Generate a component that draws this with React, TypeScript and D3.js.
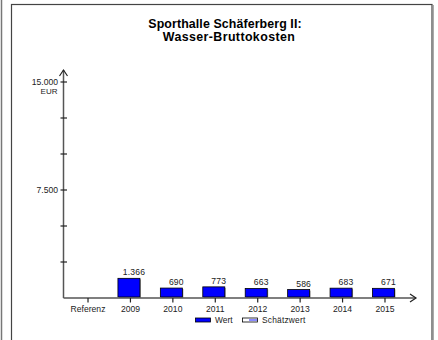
import React from "react";
import * as d3 from "d3";

const categories = ["Referenz", "2009", "2010", "2011", "2012", "2013", "2014", "2015"];
const values: (number | null)[] = [null, 1366, 690, 773, 663, 586, 683, 671];
const valueLabels = ["", "1.366", "690", "773", "663", "586", "683", "671"];
const yTicks = [0, 2500, 5000, 7500, 10000, 12500, 15000];
const yTickLabels: Record<number, string> = { 7500: "7.500", 15000: "15.000" };
const titleLines = ["Sporthalle Schäferberg II:", "Wasser-Bruttokosten"];
const legendItems = ["Wert", "Schätzwert"];

const W = 438;
const H = 340;
const FONT = "'Liberation Sans', Arial, sans-serif";

export default function App() {
  const x = d3.scaleBand<string>().domain(categories).range([66.8, 406.2]).padding(0);
  const y = d3.scaleLinear().domain([0, 15000]).range([298, 82]);
  const axisX = 63.5;
  const axisY = y(0);
  const cx = (c: string) => (x(c) as number) + x.bandwidth() / 2;
  const barW = 22;
  const axisColor = "#555";

  return (
    <svg
      width={W}
      height={H}
      style={{ position: "absolute", left: 0, top: 0, background: "#fff" }}
      fontFamily={FONT}
    >
      {/* frames */}
      <line x1={1.5} y1={0} x2={1.5} y2={H} stroke="#777" strokeWidth={1.5} />
      <rect x={11.5} y={4.5} width={420.5} height={H} fill="#fff" stroke="#444" strokeWidth={1.2} />
      <line x1={433.5} y1={5} x2={433.5} y2={H} stroke="#aaa" strokeWidth={1} />

      {/* title */}
      <text x={225} y={27.5} textAnchor="middle" fontSize={12.4} fontWeight="bold" fill="#000" letterSpacing={0.1}>
        {titleLines[0]}
      </text>
      <text x={229} y={40.5} textAnchor="middle" fontSize={12.4} fontWeight="bold" fill="#000" letterSpacing={0.4}>
        {titleLines[1]}
      </text>

      {/* y axis */}
      <line x1={axisX} y1={axisY} x2={axisX} y2={70} stroke={axisColor} strokeWidth={1.5} />
      <polyline points={`${axisX - 4},${76} ${axisX},${70} ${axisX + 4},${76}`} fill="none" stroke="#222" strokeWidth={1.2} />
      {yTicks.map((t) => (
        <g key={t}>
          {t > 0 && <line x1={axisX - 3} x2={axisX + 3.5} y1={y(t)} y2={y(t)} stroke="#222" strokeWidth={1.2} />}
          {yTickLabels[t] && (
            <text x={58} y={y(t) + 3} textAnchor="end" fontSize={8.6} fill="#222">
              {yTickLabels[t]}
            </text>
          )}
        </g>
      ))}
      <text x={49} y={94} textAnchor="middle" fontSize={8} fill="#222">
        EUR
      </text>

      {/* bars */}
      {categories.map((c, i) => {
        const v = values[i];
        const c0 = cx(c);
        return (
          <g key={c}>
            {v !== null && (
              <>
                <rect x={c0 - 12.5 + 1} y={y(v) + 1} width={barW} height={axisY - y(v) - 1} fill="#999" />
                <rect
                  x={c0 - 12.5}
                  y={y(v)}
                  width={barW}
                  height={axisY - y(v) - 1}
                  fill="#0000ff"
                  stroke="#000"
                  strokeWidth={0.8}
                />
                <text x={c0 + 3.5} y={y(v) - 3} textAnchor="middle" fontSize={8.6} fill="#222" letterSpacing={0.2}>
                  {valueLabels[i]}
                </text>
              </>
            )}
          </g>
        );
      })}

      {/* x axis */}
      <line x1={axisX} y1={axisY} x2={416} y2={axisY} stroke={axisColor} strokeWidth={1.5} />
      <polyline points={`${410},${axisY - 4} ${416},${axisY} ${410},${axisY + 4}`} fill="none" stroke="#222" strokeWidth={1.2} />
      {categories.map((c) => (
        <g key={c}>
          <line x1={cx(c)} x2={cx(c)} y1={axisY} y2={axisY + 4.5} stroke="#222" strokeWidth={1.2} />
          <text x={cx(c)} y={312} textAnchor="middle" fontSize={8.6} fill="#222">
            {c}
          </text>
        </g>
      ))}

      {/* legend */}
      <rect x={195.5} y={318} width={15} height={4} fill="#0000ff" stroke="#000" strokeWidth={0.8} />
      <text x={215} y={323} fontSize={8.4} fill="#222">
        {legendItems[0]}
      </text>
      <rect x={242.5} y={318} width={15} height={4} fill="#fff" stroke="#000" strokeWidth={0.8} />
      <line x1={249} y1={320} x2={257} y2={320} stroke="#66f" strokeWidth={1.5} />
      <text x={262} y={323} fontSize={8.4} fill="#222" letterSpacing={0.2}>
        {legendItems[1]}
      </text>
    </svg>
  );
}
